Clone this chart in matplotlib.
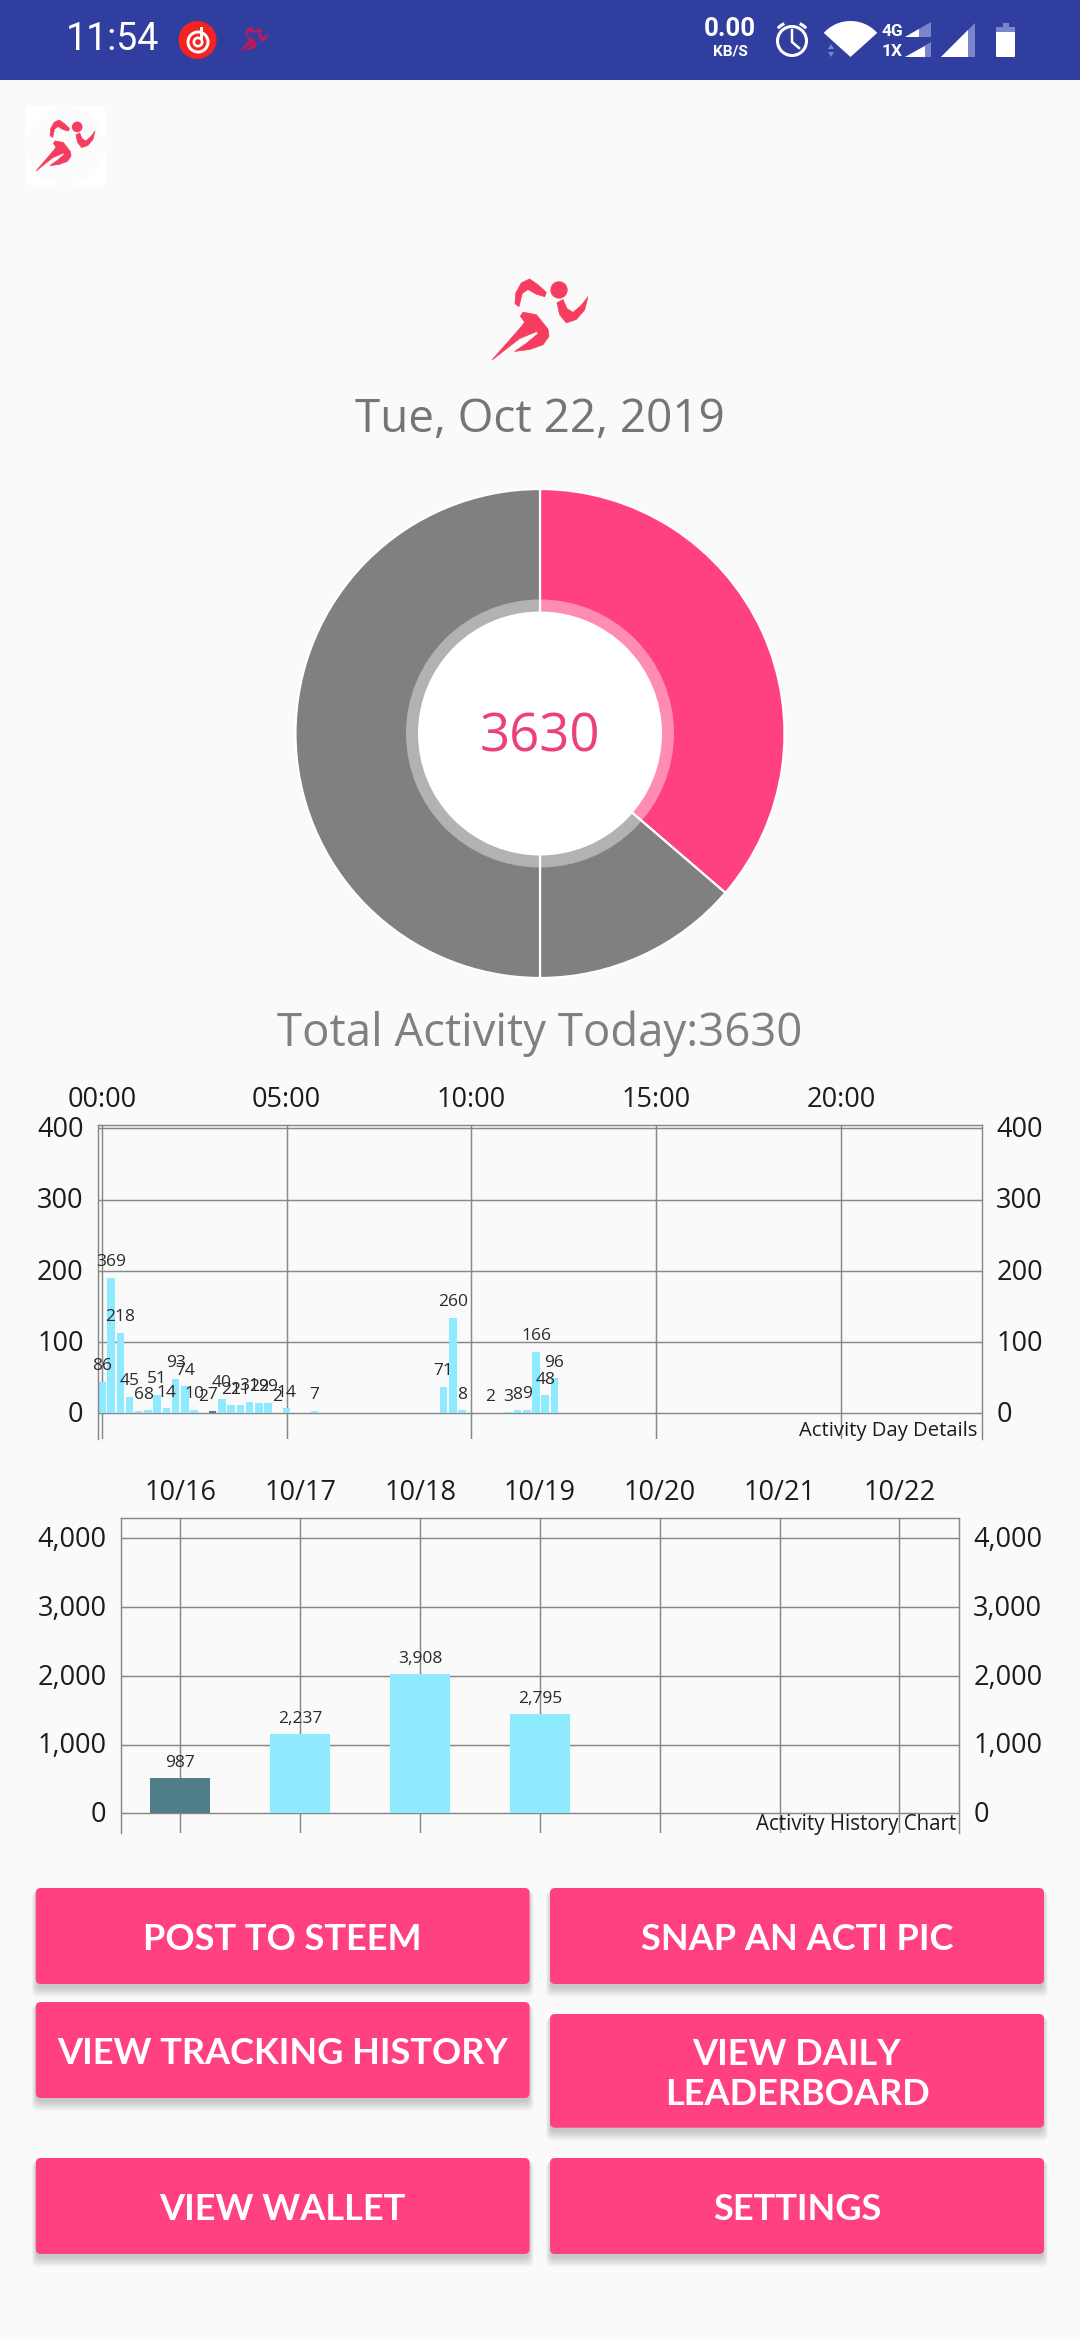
from __future__ import annotations

import matplotlib

matplotlib.use("Agg")
import matplotlib.pyplot as plt
from matplotlib.patches import Arc, Circle, FancyBboxPatch, Polygon, Rectangle, Wedge
from matplotlib.transforms import ScaledTranslation

WIDTH, HEIGHT = 1080, 2340

BACKGROUND = "#FAFAFA"
PINK = "#FF4081"
GRID = "#888888"
BAR = "#8DEAFF"
BAR_HIGHLIGHT = "#4F7D8A"
BAR_TEXT = "#2A2A2A"
TICK_TEXT = "#1C1C1C"
FONT = "Open Sans"
BUTTON_FONT = "Lato"

# donut slices
donut_values = [3630, 1370, 5000]
donut_colors = [PINK, "#808080", "#808080"]
date_label = "Tue, Oct 22, 2019"
total_label = "Total Activity Today:3630"
center_label = "3630"

# activity per 15 minute slot, labels are what the app printed over each bar
day_slots = [0, 1, 2, 3, 4, 5, 6, 7, 8, 9, 10, 11, 12, 13, 14, 15, 16, 17, 18, 19, 20, 23,
             37, 38, 39, 42, 44, 45, 46, 47, 48, 49]
day_heights = [44.5, 190, 112.5, 23, 3, 4, 26, 7, 48, 38, 5, 1, 3.6, 20.5, 11, 11, 16, 15, 15, 1, 7, 3.6,
               37, 134, 4, 1, 1.5, 4, 4.6, 86, 25, 49]
day_labels = ["86", "369", "218", "45", "6", "8", "51", "14", "93", "74", "10", "2", "7", "40", "21", "21",
              "31", "29", "29", "2", "14", "7", "71", "260", "8", "2", "3", "8", "9", "166", "48", "96"]
day_highlight_slot = 12
day_ticks = [0, 5, 10, 15, 20]
day_tick_labels = ["00:00", "05:00", "10:00", "15:00", "20:00"]
day_yticks = [0, 100, 200, 300, 400]
day_ytick_labels = ["0", "100", "200", "300", "400"]

# last seven days
week_days = ["10/16", "10/17", "10/18", "10/19", "10/20", "10/21", "10/22"]
week_heights = [513, 1159, 2027, 1445]
week_labels = ["987", "2,237", "3,908", "2,795"]
week_yticks = [0, 1000, 2000, 3000, 4000]
week_ytick_labels = ["0", "1,000", "2,000", "3,000", "4,000"]

button_labels = [
    "POST TO STEEM",
    "SNAP AN ACTI PIC",
    "VIEW TRACKING HISTORY",
    "VIEW DAILY\nLEADERBOARD",
    "VIEW WALLET",
    "SETTINGS",
]

RUNNER_HEAD = (0.698, 0.135)
RUNNER_PARTS = [
    # back arm
    [(0.24, 0.306), (0.247, 0.176), (0.306, 0.047), (0.392, 0.0), (0.479, 0.071), (0.566, 0.165), (0.549, 0.218),
     (0.462, 0.188), (0.375, 0.129), (0.316, 0.176), (0.281, 0.341)],
    # front arm
    [(0.677, 0.294), (0.74, 0.253), (0.781, 0.365), (0.844, 0.412), (0.931, 0.324), (1.0, 0.218), (0.965, 0.382),
     (0.878, 0.5), (0.774, 0.541), (0.705, 0.441)],
    # body and leg
    [(0.0, 1.0), (0.306, 0.588), (0.34, 0.53), (0.295, 0.46), (0.323, 0.41), (0.462, 0.44), (0.583, 0.618),
     (0.594, 0.706), (0.531, 0.812), (0.392, 0.871), (0.236, 0.894), (0.358, 0.794), (0.479, 0.676), (0.469, 0.647),
     (0.288, 0.735)],
]


def add_px_axes(figure, left, right, top, bottom):
    return figure.add_axes(
        [left / WIDTH, 1 - bottom / HEIGHT, (right - left) / WIDTH, (bottom - top) / HEIGHT],
        facecolor="none",
    )


def draw_runner(axis, left, top, width, height, color):
    for part in RUNNER_PARTS:
        points = [(left + x * width, top + y * height) for x, y in part]
        axis.add_patch(Polygon(points, closed=True, facecolor=color, edgecolor=color, linewidth=0.5, joinstyle="round"))
    axis.add_patch(
        Circle((left + RUNNER_HEAD[0] * width, top + RUNNER_HEAD[1] * height), 0.09 * width, facecolor=color)
    )


def draw_status_bar(axis):
    axis.add_patch(Rectangle((0, 0), WIDTH, 80, facecolor="#303F9F"))
    axis.text(66, 40, "11:54", color="white", fontsize=27, family="Roboto", ha="left", va="center")

    # netease icon
    axis.add_patch(Circle((197.5, 40), 19, facecolor="#F52222"))
    axis.add_patch(Circle((198, 42), 11.5, facecolor="white"))
    axis.add_patch(Circle((198, 42), 8.5, facecolor="#F52222"))
    axis.add_patch(Circle((198, 42), 5.5, facecolor="white"))
    axis.add_patch(Circle((198, 42), 2.8, facecolor="#F52222"))
    axis.add_patch(Rectangle((200, 27), 3, 12, facecolor="white"))
    draw_runner(axis, 239, 27.5, 29, 25, "#C2185B")

    axis.text(730, 29, "0.00", color="white", fontsize=18.5, family="Roboto", weight="bold", ha="center", va="center")
    axis.text(730, 51, "KB/S", color="white", fontsize=11, family="Roboto", weight="bold", ha="center", va="center")

    # alarm
    axis.add_patch(Circle((792, 41), 14.5, facecolor="none", edgecolor="white", linewidth=2.2))
    axis.plot([792, 792, 799], [30, 42, 48], color="white", linewidth=1.8)
    axis.add_patch(Arc((792, 41), 38, 38, theta1=222, theta2=246, color="white", linewidth=2.2))
    axis.add_patch(Arc((792, 41), 38, 38, theta1=294, theta2=318, color="white", linewidth=2.2))

    # wifi
    axis.add_patch(Wedge((850.5, 57), 36, 222, 318, facecolor="white"))
    axis.add_patch(Polygon([(828, 49), (834, 49), (831, 44)], facecolor="#7986CB"))
    axis.add_patch(Polygon([(828, 52), (834, 52), (831, 57)], facecolor="#7986CB"))

    # signal
    for label, base in (("4G", 37), ("1X", 57)):
        axis.text(892, base - 6, label, color="white", fontsize=12.5, family="Roboto", weight="bold", ha="center",
                  va="center")
        axis.add_patch(Polygon([(905, base), (931, base), (931, base - 15)], facecolor="#7986CB"))
    axis.add_patch(Polygon([(905, 37), (919, 37), (919, 29)], facecolor="white"))
    axis.add_patch(Polygon([(905, 57), (925, 57), (925, 45.5)], facecolor="white"))
    axis.add_patch(Polygon([(941, 57), (974.5, 57), (974.5, 23)], facecolor="#7986CB"))
    axis.add_patch(Polygon([(941, 57), (967.5, 57), (967.5, 30)], facecolor="white"))

    # battery
    axis.add_patch(Rectangle((1002.5, 23), 6.5, 5, facecolor="#7986CB"))
    axis.add_patch(Rectangle((996, 27), 19, 6, facecolor="#7986CB"))
    axis.add_patch(FancyBboxPatch((997, 33), 17, 23, boxstyle="round,pad=1,rounding_size=1", facecolor="white",
                                  edgecolor="none"))


def draw_header(axis):
    axis.add_patch(Rectangle((26, 106), 79, 79, facecolor="white"))
    axis.add_patch(Circle((65.5, 145.5), 39, facecolor="#FCFCFC"))
    draw_runner(axis, 36, 120, 59, 51, "#F73D5F")
    draw_runner(axis, 492, 279, 96, 81, "#F73D5F")
    axis.text(540, 419.5, date_label, color="#757575", fontsize=33, family=FONT, ha="center", va="center")
    axis.text(540, 1033.5, total_label, color="#808080", fontsize=32.8, family=FONT, ha="center", va="center")


def draw_donut(figure):
    axis = add_px_axes(figure, 295.5, 784.5, 489, 978)
    axis.pie(donut_values, colors=donut_colors, startangle=90, counterclock=False, radius=1,
             wedgeprops={"edgecolor": "white", "linewidth": 1.6})
    axis.add_patch(Circle((0, 0), 134 / 244.5, facecolor="white", alpha=0.4, zorder=5))
    axis.add_patch(Circle((0, 0), 122 / 244.5, facecolor="white", zorder=6))
    axis.text(0, -4.5 / 244.5, center_label, color="#EC407A", fontsize=38, family=FONT, ha="center", va="center",
              zorder=7)
    axis.set_xlim(-1, 1)
    axis.set_ylim(-1, 1)
    axis.set_aspect("auto")


def style_chart(figure, axis, x_ticks, x_labels, y_ticks, y_labels):
    axis.set_xticks(x_ticks, x_labels)
    axis.set_yticks(y_ticks, y_labels)
    axis.grid(color=GRID, linewidth=1.05)
    axis.set_axisbelow(True)
    axis.spines["bottom"].set_visible(False)
    for name in ("top", "left", "right"):
        axis.spines[name].set_color(GRID)
        axis.spines[name].set_linewidth(1.05)
    axis.tick_params(axis="x", length=0, pad=8, labelbottom=False, labeltop=True, bottom=False, top=False,
                     labelsize=19.5, labelcolor=TICK_TEXT, labelfontfamily=FONT)
    axis.tick_params(axis="y", length=0, pad=10, labelleft=True, labelright=True, left=False, right=False,
                     labelsize=19.5, labelcolor=TICK_TEXT, labelfontfamily=FONT)
    nudge = ScaledTranslation(0, 1.2 / 72, figure.dpi_scale_trans)
    for tick in axis.yaxis.get_major_ticks():
        for label in (tick.label1, tick.label2):
            label.set_verticalalignment("center_baseline")
            label.set_transform(label.get_transform() + nudge)


def draw_day_chart(figure):
    axis = add_px_axes(figure, 97.5, 982.4, 1124.7, 1439.3)
    hours = [slot * 0.25 for slot in day_slots]
    colors = [BAR_HIGHLIGHT if slot == day_highlight_slot else BAR for slot in day_slots]
    axis.bar(hours, day_heights, width=0.203, color=colors)
    axis.set_xlim(-0.116, 23.83)
    axis.set_ylim(-36.5, 405)
    style_chart(figure, axis, day_ticks, day_tick_labels, day_yticks, day_ytick_labels)
    for hour, height, label in zip(hours, day_heights, day_labels):
        axis.annotate(label, (hour, height), xytext=(0, 8.4), textcoords="offset points", ha="center",
                      va="baseline", fontsize=12.5, color=BAR_TEXT, family=FONT)
    axis.text(977, 1431, "Activity Day Details", transform=figure.axes[0].transData, color=TICK_TEXT,
              fontsize=14.6, family=FONT, ha="right", va="center")


def draw_week_chart(figure):
    axis = add_px_axes(figure, 120.5, 959.4, 1518.3, 1833.3)
    positions = list(range(len(week_heights)))
    colors = [BAR_HIGHLIGHT] + [BAR] * (len(week_heights) - 1)
    axis.bar(positions, week_heights, width=0.5, color=colors)
    axis.set_xlim(-0.5, 6.5)
    axis.set_ylim(-291, 4291)
    style_chart(figure, axis, range(len(week_days)), week_days, week_yticks, week_ytick_labels)
    for position, height, label in zip(positions, week_heights, week_labels):
        axis.annotate(label, (position, height), xytext=(0, 8), textcoords="offset points", ha="center",
                      va="baseline", fontsize=12.5, color=BAR_TEXT, family=FONT)
    axis.text(956, 1824.5, "Activity History Chart", transform=figure.axes[0].transData, color=TICK_TEXT,
              fontsize=14.8, family=FONT, ha="right", va="center")


def draw_buttons(axis):
    boxes = [
        (35.8, 529.6, 1888, 1984),
        (550, 1044, 1888, 1984),
        (35.8, 529.6, 2002, 2098),
        (550, 1044, 2014, 2127.7),
        (35.8, 529.6, 2158, 2254),
        (550, 1044, 2158, 2254),
    ]
    for (left, right, top, bottom), label in zip(boxes, button_labels):
        # soft drop shadow
        for step in range(10):
            grow = 10 - step
            axis.add_patch(FancyBboxPatch(
                (left + 1 - grow / 2, top + 3), right - left - 2 + grow, bottom - top + grow,
                boxstyle="round,pad=0,rounding_size=6", facecolor="black", edgecolor="none", alpha=0.018,
            ))
        axis.add_patch(FancyBboxPatch(
            (left, top), right - left, bottom - top, boxstyle="round,pad=0,rounding_size=5",
            facecolor=PINK, edgecolor="none",
        ))
        axis.text((left + right) / 2, (top + bottom) / 2 + 4, label, color="white", fontsize=26, weight="bold",
                  family=BUTTON_FONT, ha="center", va="center", linespacing=1.25)


figure = plt.figure(figsize=(WIDTH / 100, HEIGHT / 100), dpi=100, facecolor=BACKGROUND)
base = figure.add_axes([0, 0, 1, 1], facecolor="none")
base.set_xlim(0, WIDTH)
base.set_ylim(HEIGHT, 0)
base.axis("off")

draw_status_bar(base)
draw_header(base)
draw_donut(figure)
draw_day_chart(figure)
draw_week_chart(figure)
draw_buttons(base)

figure.savefig("out.png", dpi=100, facecolor=BACKGROUND)
plt.close(figure)
